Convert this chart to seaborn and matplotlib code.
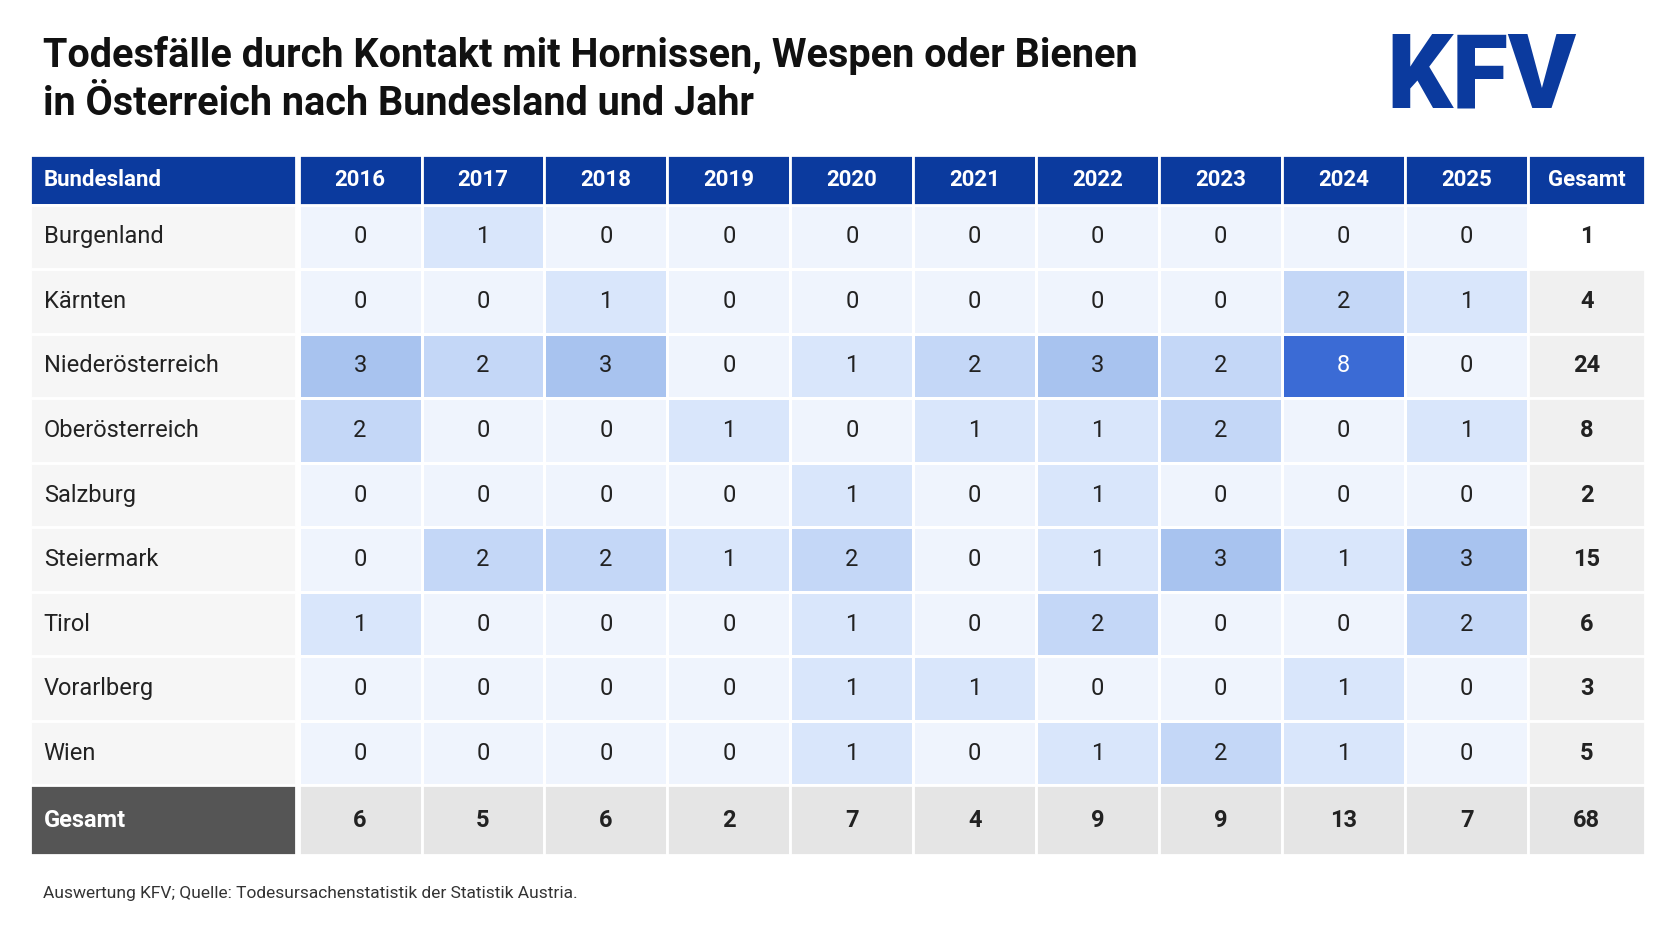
import matplotlib
matplotlib.use("Agg")
import matplotlib.pyplot as plt
import seaborn as sns
import numpy as np
from matplotlib.colors import LinearSegmentedColormap
from matplotlib.patches import Rectangle

years = ["2016","2017","2018","2019","2020","2021","2022","2023","2024","2025"]
states = ["Burgenland","Kärnten","Niederösterreich","Oberösterreich","Salzburg",
          "Steiermark","Tirol","Vorarlberg","Wien"]
values = [
    [0,1,0,0,0,0,0,0,0,0],
    [0,0,1,0,0,0,0,0,2,1],
    [3,2,3,0,1,2,3,2,8,0],
    [2,0,0,1,0,1,1,2,0,1],
    [0,0,0,0,1,0,1,0,0,0],
    [0,2,2,1,2,0,1,3,1,3],
    [1,0,0,0,1,0,2,0,0,2],
    [0,0,0,0,1,1,0,0,1,0],
    [0,0,0,0,1,0,1,2,1,0],
]
row_totals = [1,4,24,8,2,15,6,3,5]
col_totals = [6,5,6,2,7,4,9,9,13,7]
grand_total = 68

W, H = 1568, 883
fig = plt.figure(figsize=(16.72, 9.41), dpi=100)
font = "Roboto"
plt.rcParams['font.family'] = [font, 'DejaVu Sans']

ov = fig.add_axes([0, 0, 1, 1])
ov.set_xlim(0, W); ov.set_ylim(H, 0); ov.axis("off")

x0, xn, xy0, xy1, xg1 = 28, 278, 280, 1433, 1543
ytop, yh, ybody_end, ybot = 145, 192, 737, 802
cw = (xy1 - xy0) / 10
rh = (ybody_end - yh) / 9

# heatmap
cmap = LinearSegmentedColormap.from_list(
    "b", [(0, "#eff4fd"), (1/8, "#d9e6fb"), (2/8, "#c4d7f7"), (3/8, "#a8c3ef"), (1, "#3b6bd5")], N=256)
hax = fig.add_axes([xy0 / W, 1 - ybody_end / H, (xy1 - xy0) / W, (ybody_end - yh) / H])
sns.heatmap(np.array(values), ax=hax, cmap=cmap, vmin=0, vmax=8, cbar=False,
            linewidths=2, linecolor="white", annot=True, fmt="d",
            annot_kws={"fontsize": 17, "color": "#222222", "fontfamily": font})
for t in hax.texts:
    if t.get_text() == "8":
        t.set_color("white")
hax.set_xticks([]); hax.set_yticks([])

def rect(x, y, w, h, c):
    ov.add_patch(Rectangle((x, y), w, h, facecolor=c, edgecolor="white", lw=2))

navy = "#0b3a9e"
# header
rect(x0, ytop, xn - x0, yh - ytop, navy)
ov.text(x0 + 13, (ytop + yh) / 2, "Bundesland", color="white", fontsize=16, fontweight="bold", va="center")
for i, yr in enumerate(years):
    rect(xy0 + i * cw, ytop, cw, yh - ytop, navy)
    ov.text(xy0 + (i + .5) * cw, (ytop + yh) / 2, yr, color="white", fontsize=16, fontweight="bold", va="center", ha="center")
rect(xy1, ytop, xg1 - xy1, yh - ytop, navy)
ov.text((xy1 + xg1) / 2, (ytop + yh) / 2, "Gesamt", color="white", fontsize=16, fontweight="bold", va="center", ha="center")

# rows
for r, s in enumerate(states):
    y = yh + r * rh
    rect(x0, y, xn - x0, rh, "#f6f6f6")
    ov.text(x0 + 13, y + rh / 2, s, fontsize=17, va="center", color="#222222")
    rect(xy1, y, xg1 - xy1, rh, "white" if r == 0 else "#f0f0f0")
    ov.text((xy1 + xg1) / 2, y + rh / 2, str(row_totals[r]), fontsize=17, fontweight="bold", va="center", ha="center", color="#222222")

# totals row
rect(x0, ybody_end, xn - x0, ybot - ybody_end, "#555555")
ov.text(x0 + 13, (ybody_end + ybot) / 2, "Gesamt", color="white", fontsize=17, fontweight="bold", va="center")
for i, v in enumerate(col_totals + [grand_total]):
    xs = xy0 + i * cw
    w = cw if i < 10 else xg1 - xy1
    rect(xs, ybody_end, w, ybot - ybody_end, "#e5e5e5")
    ov.text(xs + w / 2, (ybody_end + ybot) / 2, str(v), fontsize=17, fontweight="bold", va="center", ha="center", color="#222222")

# title
ov.text(40, 52, "Todesfälle durch Kontakt mit Hornissen, Wespen oder Bienen", fontsize=28.5, fontweight="bold", va="center", color="#111111")
ov.text(40, 98, "in Österreich nach Bundesland und Jahr", fontsize=28.5, fontweight="bold", va="center", color="#111111")
ov.text(1300, 74, "KFV", fontsize=74, fontweight="black", va="center", color=navy)
ov.text(40, 838, "Auswertung KFV; Quelle: Todesursachenstatistik der Statistik Austria.", fontsize=12.5, va="center", color="#333333")

fig.savefig("out.png", dpi=100, facecolor="white")
